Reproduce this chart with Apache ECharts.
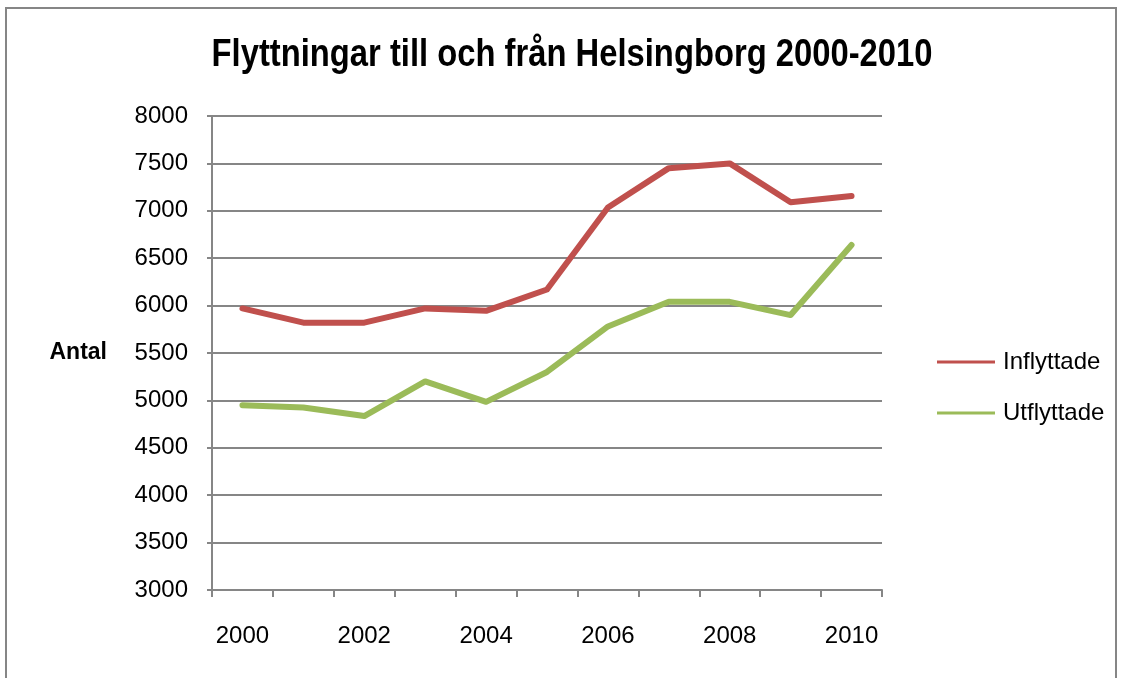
<!DOCTYPE html>
<html>
<head>
<meta charset="utf-8">
<script src="https://cdn.jsdelivr.net/npm/echarts@6/dist/echarts.min.js"></script>
<style>html,body{margin:0;padding:0;background:#fff;}#c{width:1121px;height:678px;}</style>
</head>
<body>
<div id="c"></div>
<script>
const years = ['2000','2001','2002','2003','2004','2005','2006','2007','2008','2009','2010'];
const inflyttade = [5970, 5820, 5820, 5970, 5945, 6170, 7035, 7450, 7500, 7090, 7155];
const utflyttade = [4950, 4925, 4835, 5200, 4985, 5300, 5780, 6040, 6040, 5900, 6640];
const yTicks = { min: 3000, max: 8000, step: 500 };
const titleText = 'Flyttningar till och från Helsingborg 2000-2010';
const yName = 'Antal';

const chart = echarts.init(document.getElementById('c'), null, { renderer: 'canvas' });
const gray = '#868686';
const ff = '"Liberation Sans", Arial, sans-serif';
chart.setOption({
  backgroundColor: '#fff',
  animation: false,
  graphic: [{
    type: 'rect', shape: { x: 6, y: 8, width: 1110, height: 720 },
    style: { fill: 'none', stroke: gray, lineWidth: 2 }, silent: true, z: -1
  }, {
    type: 'text', x: 572, y: 55, scaleX: 0.84, silent: true,
    style: { text: titleText, fill: '#000', font: 'bold 39px ' + ff, textAlign: 'center', textVerticalAlign: 'middle' }
  }],
  legend: {
    orient: 'vertical', left: 932, top: 343, itemGap: 23,
    itemWidth: 58, itemHeight: 3, icon: 'rect',
    textStyle: { fontFamily: ff, fontSize: 24, color: '#000', lineHeight: 28, padding: [0, 0, 0, 3] },
    data: ['Inflyttade', 'Utflyttade']
  },
  grid: { left: 212, right: 239, top: 116, bottom: 88, containLabel: false },
  xAxis: {
    type: 'category', data: years, boundaryGap: true,
    axisLine: { lineStyle: { color: gray, width: 2 } },
    axisTick: { show: true, interval: 0, length: 7, lineStyle: { color: gray, width: 2 } },
    axisLabel: { interval: 1, margin: 34, color: '#000', fontSize: 24, fontFamily: ff },
    splitLine: { show: false }
  },
  yAxis: {
    type: 'value', min: yTicks.min, max: yTicks.max, interval: yTicks.step,
    name: yName, nameLocation: 'middle', nameRotate: 0, nameGap: 105,
    nameTextStyle: { fontWeight: 'bold', fontSize: 23, color: '#000', fontFamily: ff, align: 'right' },
    axisLine: { show: true, lineStyle: { color: gray, width: 2 } },
    axisTick: { show: true, length: 5, lineStyle: { color: gray, width: 2 } },
    axisLabel: { margin: 24, color: '#000', fontSize: 24, fontFamily: ff, formatter: v => String(v) },
    splitLine: { show: true, lineStyle: { color: gray, width: 2 } }
  },
  series: [
    { name: 'Inflyttade', type: 'line', data: inflyttade, showSymbol: false, symbol: 'none',
      lineStyle: { color: '#C0504D', width: 6, cap: 'round', join: 'round' }, itemStyle: { color: '#C0504D' } },
    { name: 'Utflyttade', type: 'line', data: utflyttade, showSymbol: false, symbol: 'none',
      lineStyle: { color: '#9BBB59', width: 6, cap: 'round', join: 'round' }, itemStyle: { color: '#9BBB59' } }
  ]
});
</script>
</body>
</html>
